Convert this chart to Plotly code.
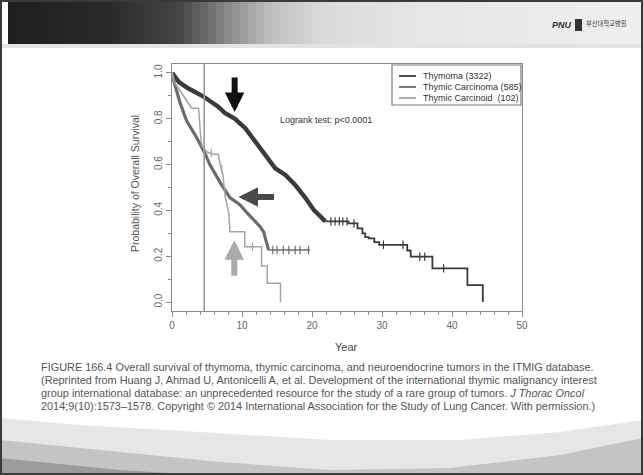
import plotly.graph_objects as go

W, H = 643, 475
L, R, T, B = 172, 121, 64, 164
PW, PH = W - L - R, H - T - B


def pxx(x):
    return (x - L) / PW


def pxy(y):
    return (H - B - y) / PH


# ---------------- data ----------------
series_names = ["Thymoma (3322)", "Thymic Carcinoma (585)", "Thymic Carcinoid  (102)"]
series_colors = ["#3a3a3a", "#6c6c6c", "#a4a4a4"]

thymoma_t = [0, 1.0, 2.3, 4.5, 6.6, 7.6, 9.0, 10.5, 11.9, 13.3, 14.75, 16.2, 17.6,
             19.05, 20.3, 21.0, 21.9, 25.2, 25.2, 26.5, 26.5, 27.2, 27.2, 27.6, 27.6,
             28.1, 28.1, 28.9, 28.9, 29.6, 29.6, 33.6, 33.6, 34.1, 34.1, 37.2, 37.2,
             42.2, 42.2, 44.4, 44.4]
thymoma_s = [1.0, 0.96, 0.933, 0.897, 0.853, 0.824, 0.80, 0.758, 0.70, 0.642, 0.584,
             0.555, 0.511, 0.455, 0.40, 0.38, 0.352, 0.352, 0.343, 0.343, 0.322, 0.322,
             0.30, 0.30, 0.283, 0.283, 0.278, 0.278, 0.262, 0.262, 0.25, 0.25, 0.225,
             0.225, 0.198, 0.198, 0.147, 0.147, 0.074, 0.074, 0.0]
thymoma_thick_end = 16  # index of last point of the dense (thick) part
thymoma_cens_t = [22.7, 23.3, 23.9, 24.4, 25.0, 26.0, 30.2, 33.0, 35.4, 36.1, 38.8]
thymoma_cens_s = [0.352, 0.352, 0.352, 0.352, 0.352, 0.343, 0.25, 0.25, 0.198, 0.198, 0.147]

carcinoma_t = [0, 0.2, 1.15, 2.1, 3.3, 4.7, 5.4, 6.9, 8.3, 9.7, 10.7, 11.65, 12.6,
               13.1, 13.6, 13.8, 19.7]
carcinoma_s = [1.0, 0.97, 0.87, 0.79, 0.73, 0.65, 0.60, 0.52, 0.455, 0.425, 0.39,
               0.36, 0.329, 0.305, 0.256, 0.227, 0.227]
carcinoma_thick_end = 15
carcinoma_cens_t = [14.4, 15.0, 15.9, 16.7, 17.6, 18.3, 19.5]
carcinoma_cens_s = [0.227] * 7

carcinoid_t = [0, 0.3, 1.0, 2.0, 2.8, 3.8, 3.9, 4.1, 4.3, 5.0, 6.0, 6.6, 6.9, 7.3,
               7.6, 8.1, 8.3, 10.4, 10.4, 12.8, 12.8, 13.6, 13.6, 15.5, 15.5]
carcinoid_s = [1.0, 0.96, 0.93, 0.88, 0.846, 0.846, 0.80, 0.72, 0.68, 0.655, 0.645,
               0.645, 0.60, 0.55, 0.46, 0.39, 0.307, 0.307, 0.241, 0.241, 0.157,
               0.157, 0.082, 0.082, 0.0]
carcinoid_cens_t = [5.6, 7.1, 11.5]
carcinoid_cens_s = [0.65, 0.58, 0.241]

ref_year = 4.6
x_ticks = [0, 10, 20, 30, 40, 50]
y_ticks = [0.0, 0.2, 0.4, 0.6, 0.8, 1.0]
y_ticklabels = ["0.0", "0.2", "0.4", "0.6", "0.8", "1.0"]

caption_lines = [
    "FIGURE 166.4 Overall survival of thymoma, thymic carcinoma, and neuroendocrine tumors in the ITMIG database.",
    "(Reprinted from Huang J, Ahmad U, Antonicelli A, et al. Development of the international thymic malignancy interest",
    "group international database: an unprecedented resource for the study of a rare group of tumors. <i>J Thorac Oncol</i>",
    "2014;9(10):1573\u20131578. Copyright \u00a9 2014 International Association for the Study of Lung Cancer. With permission.)",
]

# ---------------- figure ----------------
fig = go.Figure()

# Thymoma
fig.add_trace(go.Scatter(x=thymoma_t[:thymoma_thick_end + 1], y=thymoma_s[:thymoma_thick_end + 1],
                         mode="lines", line=dict(color=series_colors[0], width=4.4), hoverinfo="skip"))
fig.add_trace(go.Scatter(x=thymoma_t[thymoma_thick_end:], y=thymoma_s[thymoma_thick_end:],
                         mode="lines", line=dict(color=series_colors[0], width=1.8), hoverinfo="skip"))
fig.add_trace(go.Scatter(x=thymoma_cens_t, y=thymoma_cens_s, mode="markers", hoverinfo="skip",
                         marker=dict(symbol="line-ns", size=6, line=dict(color=series_colors[0], width=1.2))))
# Carcinoma
fig.add_trace(go.Scatter(x=carcinoma_t[:carcinoma_thick_end + 1], y=carcinoma_s[:carcinoma_thick_end + 1],
                         mode="lines", line=dict(color=series_colors[1], width=3.2), hoverinfo="skip"))
fig.add_trace(go.Scatter(x=carcinoma_t[carcinoma_thick_end:], y=carcinoma_s[carcinoma_thick_end:],
                         mode="lines", line=dict(color=series_colors[1], width=1.5), hoverinfo="skip"))
fig.add_trace(go.Scatter(x=carcinoma_cens_t, y=carcinoma_cens_s, mode="markers", hoverinfo="skip",
                         marker=dict(symbol="line-ns", size=6, line=dict(color=series_colors[1], width=1.2))))
# Carcinoid
fig.add_trace(go.Scatter(x=carcinoid_t, y=carcinoid_s, mode="lines",
                         line=dict(color=series_colors[2], width=1.5), hoverinfo="skip"))
fig.add_trace(go.Scatter(x=carcinoid_cens_t, y=carcinoid_cens_s, mode="markers", hoverinfo="skip",
                         marker=dict(symbol="line-ns", size=6, line=dict(color=series_colors[2], width=1.2))))

fig.add_vline(x=ref_year, line=dict(color="#9a9a9a", width=1.6))

shapes = []

# slide decoration: top band gradient strips
band_stops = [(0, (30, 30, 30)), (110, (42, 42, 42)), (180, (70, 70, 70)), (230, (140, 140, 140)),
              (270, (190, 190, 190)), (320, (218, 218, 218)), (420, (230, 230, 230)), (643, (240, 240, 240))]


def band_color(x):
    for (x0, c0), (x1, c1) in zip(band_stops[:-1], band_stops[1:]):
        if x0 <= x <= x1:
            f = (x - x0) / (x1 - x0)
            return "rgb(%d,%d,%d)" % tuple(int(a + (b - a) * f) for a, b in zip(c0, c1))
    return "rgb(240,240,240)"


step = 8
for x0 in range(0, W, step):
    shapes.append(dict(type="rect", xref="paper", yref="paper", layer="below",
                       x0=pxx(x0), x1=pxx(min(x0 + step + 0.5, W)), y0=pxy(44), y1=pxy(0),
                       fillcolor=band_color(x0 + step / 2), line=dict(width=0)))
shapes.append(dict(type="rect", xref="paper", yref="paper", layer="below",
                   x0=pxx(0), x1=pxx(W), y0=pxy(48), y1=pxy(44),
                   fillcolor="rgba(200,200,200,0.5)", line=dict(width=0)))


def path_from(points):
    s = "M %f %f" % (pxx(points[0][0]), pxy(points[0][1]))
    for x, y in points[1:]:
        s += " L %f %f" % (pxx(x), pxy(y))
    return s + " Z"


wave1 = [(0, 418), (80, 425), (200, 432), (330, 440), (460, 440), (560, 432), (643, 420),
         (643, 475), (0, 475)]
wave2 = [(0, 440), (100, 450), (220, 462), (330, 470), (450, 468), (560, 455), (643, 438),
         (643, 475), (0, 475)]
wave3 = [(0, 458), (120, 470), (200, 475), (0, 475)]
shapes.append(dict(type="path", xref="paper", yref="paper", layer="below", path=path_from(wave1),
                   fillcolor="#e6e6e6", line=dict(width=0)))
shapes.append(dict(type="path", xref="paper", yref="paper", layer="below", path=path_from(wave2),
                   fillcolor="#c4c4c4", line=dict(width=0)))
shapes.append(dict(type="path", xref="paper", yref="paper", layer="below", path=path_from(wave3),
                   fillcolor="#9c9c9c", line=dict(width=0)))
shapes.append(dict(type="rect", xref="paper", yref="paper", layer="below",
                   x0=pxx(1), x1=pxx(W - 1), y0=pxy(H - 1), y1=pxy(1),
                   line=dict(color="#3a3a3a", width=2)))

# legend box (manual, R style)
leg_x0, leg_x1, leg_y0, leg_y1 = 392, 521, 65, 105
shapes.append(dict(type="rect", xref="paper", yref="paper", x0=pxx(leg_x0), x1=pxx(leg_x1),
                   y0=pxy(leg_y1), y1=pxy(leg_y0), line=dict(color="#7a7a7a", width=1.2),
                   fillcolor="white"))
annotations = []
leg_rows = [76, 87, 98]
for name, col, yy in zip(series_names, series_colors, leg_rows):
    shapes.append(dict(type="line", xref="paper", yref="paper", x0=pxx(399), x1=pxx(416),
                       y0=pxy(yy), y1=pxy(yy), line=dict(color=col, width=1.8)))
    annotations.append(dict(xref="paper", yref="paper", x=pxx(421), y=pxy(yy), text=name,
                            showarrow=False, xanchor="left", yanchor="middle",
                            font=dict(family="Liberation Sans", size=9, color="#333")))

annotations.append(dict(x=15.2, y=0.795, text="Logrank test: p<0.0001", showarrow=False,
                        xanchor="left", yanchor="middle",
                        font=dict(family="Liberation Sans", size=9, color="#333")))

# arrows
annotations.append(dict(x=8.95, y=0.83, ax=0, ay=-36, text="", showarrow=True, arrowhead=2,
                        arrowsize=0.65, arrowwidth=6, arrowcolor="#111"))
annotations.append(dict(x=9.5, y=0.458, ax=37, ay=0, text="", showarrow=True, arrowhead=2,
                        arrowsize=0.65, arrowwidth=6, arrowcolor="#4a4a4a"))
annotations.append(dict(x=8.9, y=0.27, ax=0, ay=37, text="", showarrow=True, arrowhead=2,
                        arrowsize=0.65, arrowwidth=6, arrowcolor="#aaaaaa"))

# axis titles
annotations.append(dict(xref="paper", yref="paper", x=pxx(346), y=pxy(347), text="Year",
                        showarrow=False, xanchor="center", yanchor="middle",
                        font=dict(family="Liberation Sans", size=11, color="#444")))
annotations.append(dict(xref="paper", yref="paper", x=pxx(135), y=pxy(184),
                        text="Probability of Overall Survival", textangle=-90,
                        showarrow=False, xanchor="center", yanchor="middle",
                        font=dict(family="Liberation Sans", size=10.5, color="#555")))

# caption
for i, line in enumerate(caption_lines):
    annotations.append(dict(xref="paper", yref="paper", x=pxx(39), y=pxy(367 + 13 * i), text=line,
                            showarrow=False, xanchor="left", yanchor="middle",
                            font=dict(family="Liberation Sans", size=10.9, color="#555")))

# logo
annotations.append(dict(xref="paper", yref="paper", x=pxx(574), y=pxy(25), text="<b><i>PNU</i></b>",
                        showarrow=False, xanchor="right", yanchor="middle",
                        font=dict(family="Liberation Sans", size=9, color="#333")))
shapes.append(dict(type="rect", xref="paper", yref="paper", x0=pxx(575), x1=pxx(582),
                   y0=pxy(31), y1=pxy(19), fillcolor="#333", line=dict(width=0)))
annotations.append(dict(xref="paper", yref="paper", x=pxx(584), y=pxy(23), text="부산대학교병원",
                        showarrow=False, xanchor="left", yanchor="middle",
                        font=dict(family="Noto Sans CJK KR", size=6.3, color="#444")))

fig.update_layout(
    width=W, height=H,
    margin=dict(l=L, r=R, t=T, b=B, pad=0),
    paper_bgcolor="white", plot_bgcolor="white",
    showlegend=False,
    shapes=shapes, annotations=annotations,
    font=dict(family="Liberation Sans", color="#666"),
)
axis_common = dict(showgrid=False, zeroline=False, showline=True, linecolor="#8a8a8a", linewidth=1.3,
                   mirror=True, ticks="outside", ticklen=5, tickcolor="#8a8a8a", tickwidth=1.2,
                   tickfont=dict(family="Liberation Sans", size=10, color="#666"))
fig.update_xaxes(range=[0, 50], tickvals=x_ticks, ticktext=[str(v) for v in x_ticks],
                 minor=dict(dtick=2, tick0=0, ticks="outside", ticklen=3, tickcolor="#8a8a8a"),
                 **axis_common)
fig.update_yaxes(range=[-0.039, 1.039], tickvals=y_ticks, ticktext=y_ticklabels, tickangle=-90,
                 minor=dict(dtick=0.1, tick0=0, ticks="outside", ticklen=3, tickcolor="#8a8a8a"),
                 **axis_common)

fig.write_html("out.html", config={"displayModeBar": False},
               post_script="document.body.style.margin='0';document.body.style.overflow='hidden';")
